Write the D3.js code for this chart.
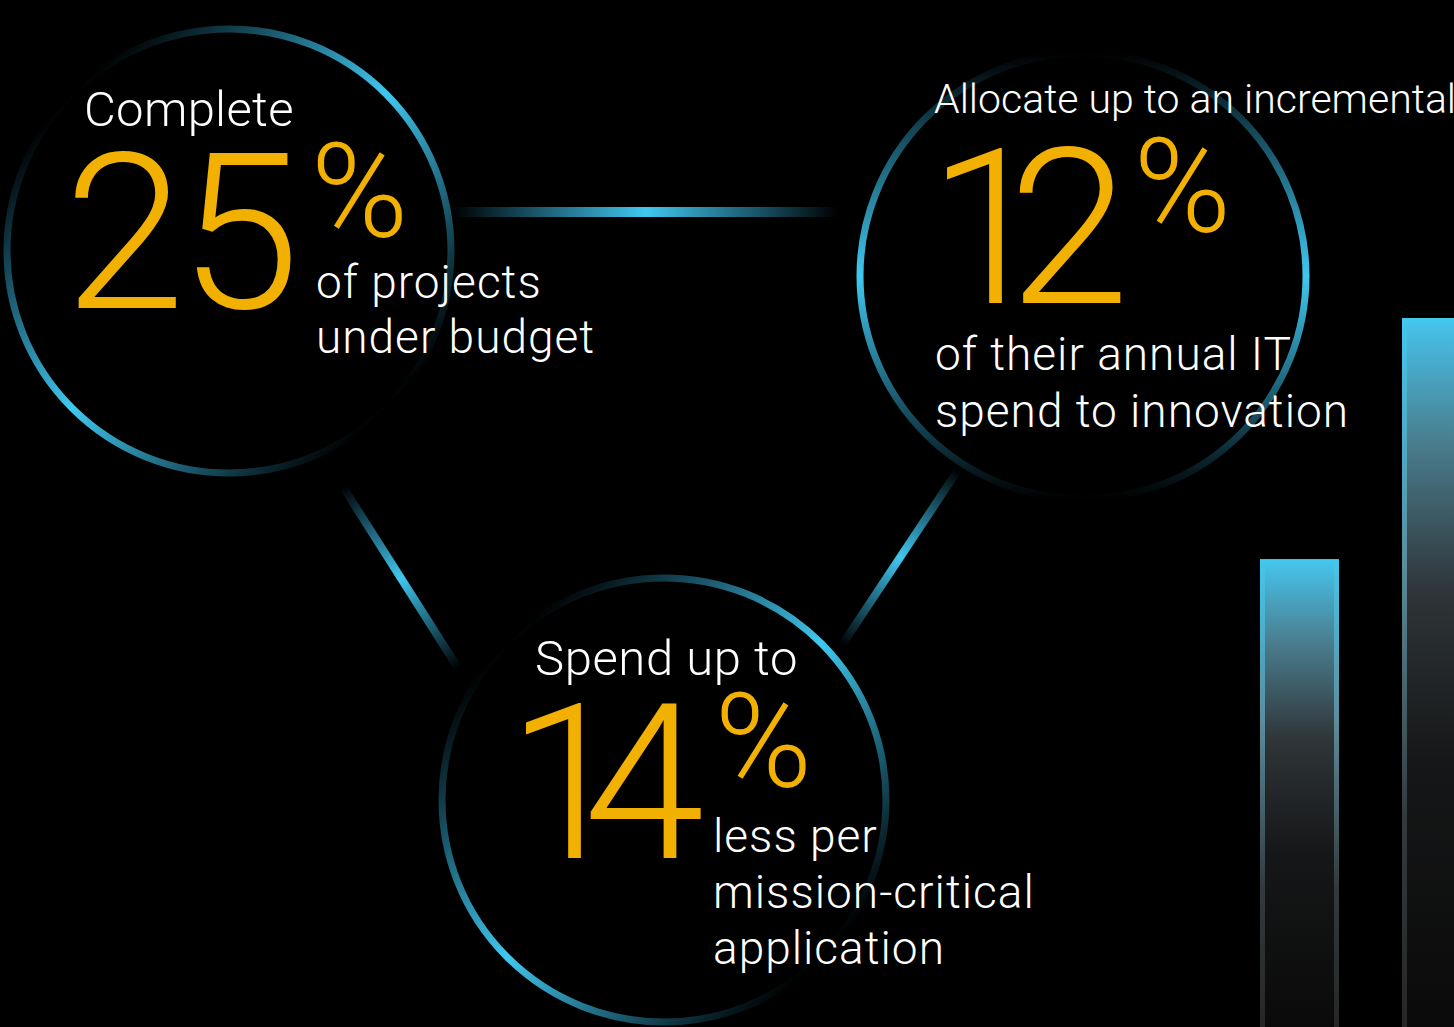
<!DOCTYPE html>
<html>
<head>
<meta charset="utf-8">
<script src="https://cdn.jsdelivr.net/npm/d3@7"></script>
<style>
  html, body { margin: 0; padding: 0; background: #000; overflow: hidden; }
  svg { display: block; }
  text { font-family: Roboto, "Noto Sans", sans-serif; font-weight: 300; }
  .num { font-variant-numeric: proportional-nums; font-feature-settings: "pnum" 1; }
</style>
</head>
<body>
<svg></svg>
<script>
// the three headline figures
var leadIns = ["Complete", "Allocate up to an incremental", "Spend up to"];
var values = [25, 12, 14];
var captions = [
  ["of projects", "under budget"],
  ["of their annual IT", "spend to innovation"],
  ["less per", "mission-critical", "application"]
];
// decorative bars on the right
var barKeys = ["a", "b"];
var barValues = [66, 100];

var width = 1454, height = 1027;
var cyan = "#40c8f0", gold = "#f2b000";

var svg = d3.select("svg")
    .attr("width", width)
    .attr("height", height);

var defs = svg.append("defs");

// layout of each figure block: lead [x, y, size, spacing], num [x, y, spacing, % dx]
var layout = [
  { cx: 229, cy: 251, r: 222, dir: "diag",
    lead: [84, 126, 49, 0.3], num: [64, 308, -6, 17], cap: [316, 298, 55] },
  { cx: 1083, cy: 276, r: 223, dir: "vert",
    lead: [934, 113, 41, 0], num: [935, 303, -22, 26], cap: [935, 370, 57] },
  { cx: 664, cy: 800, r: 222, dir: "diag",
    lead: [535, 675, 49, 0.6], num: [514, 858, -26, 36], cap: [713, 852, 56] }
];

function ringGradient(id, x1, y1, x2, y2) {
  var g = defs.append("linearGradient")
      .attr("id", id)
      .attr("gradientUnits", "userSpaceOnUse")
      .attr("x1", x1).attr("y1", y1).attr("x2", x2).attr("y2", y2);
  [[0, "#000"], [0.18, "#15495a"], [0.5, cyan], [0.82, "#15495a"], [1, "#000"]]
    .forEach(function (s) {
      g.append("stop").attr("offset", s[0]).attr("stop-color", s[1]);
    });
}

// connector lines between the circles
var links = [
  [453, 212, 838, 212, 10],
  [343, 487, 458, 668, 8],
  [958, 470, 842, 645, 8]
];
links.forEach(function (l, i) {
  ringGradient("link" + i, l[0], l[1], l[2], l[3]);
  svg.append("line")
      .attr("x1", l[0]).attr("y1", l[1])
      .attr("x2", l[2]).attr("y2", l[3])
      .attr("stroke", "url(#link" + i + ")")
      .attr("stroke-width", l[4]);
});

// rings
layout.forEach(function (d, i) {
  var a = d.r * 0.7071;
  if (d.dir == "diag") ringGradient("ring" + i, d.cx - a, d.cy - a, d.cx + a, d.cy + a);
  else ringGradient("ring" + i, d.cx, d.cy - d.r, d.cx, d.cy + d.r);
});

svg.selectAll("circle.ring")
    .data(layout)
    .enter()
    .append("circle")
    .attr("class", "ring")
    .attr("cx", function (d) { return d.cx; })
    .attr("cy", function (d) { return d.cy; })
    .attr("r", function (d) { return d.r; })
    .attr("fill", "none")
    .attr("stroke", function (d, i) { return "url(#ring" + i + ")"; })
    .attr("stroke-width", 7);

// text
layout.forEach(function (d, i) {
  svg.append("text")
      .attr("x", d.lead[0]).attr("y", d.lead[1])
      .attr("font-size", d.lead[2])
      .attr("letter-spacing", d.lead[3])
      .attr("fill", "#fff")
      .text(leadIns[i]);

  var num = svg.append("text")
      .attr("class", "num")
      .attr("x", d.num[0]).attr("y", d.num[1])
      .attr("fill", gold);
  num.append("tspan")
      .attr("font-size", 218)
      .attr("letter-spacing", d.num[2])
      .text(values[i]);
  num.append("tspan")
      .attr("font-size", 132)
      .attr("dx", d.num[3])
      .attr("dy", -71)
      .text("%");

  svg.append("text")
      .attr("font-size", 46)
      .attr("letter-spacing", 1)
      .attr("fill", "#fff")
      .selectAll("tspan")
      .data(captions[i])
      .enter()
      .append("tspan")
      .attr("x", d.cap[0])
      .attr("y", function (c, j) { return d.cap[1] + j * d.cap[2]; })
      .text(function (c) { return c; });
});

// bars
var x = d3.scaleBand()
    .domain(barKeys)
    .range([1260, 1481])
    .paddingInner(0.4437)
    .paddingOuter(0);

var y = d3.scaleLinear()
    .domain([0, 100])
    .range([height, 318]);

var edge = defs.append("linearGradient")
    .attr("id", "barEdge").attr("x1", 0).attr("y1", 0).attr("x2", 0).attr("y2", 1);
[[0, "#42c8ee"], [0.35, "#5a8c9c"], [0.7, "#333a3d"], [1, "#262626"]].forEach(function (s) {
  edge.append("stop").attr("offset", s[0]).attr("stop-color", s[1]);
});
var fill = defs.append("linearGradient")
    .attr("id", "barFill").attr("x1", 0).attr("y1", 0).attr("x2", 0).attr("y2", 1);
[[0, "#46c2ea"], [0.17, "#4a7d8e"], [0.38, "#2f3538"], [0.62, "#161718"], [1, "#0a0a0a"]].forEach(function (s) {
  fill.append("stop").attr("offset", s[0]).attr("stop-color", s[1]);
});

var bars = svg.selectAll("g.bar")
    .data(barValues)
    .enter()
    .append("g")
    .attr("class", "bar");

bars.append("rect")
    .attr("x", function (d, i) { return x(barKeys[i]); })
    .attr("y", function (d) { return y(d); })
    .attr("width", x.bandwidth())
    .attr("height", function (d) { return height - y(d); })
    .attr("fill", "url(#barEdge)");

bars.append("rect")
    .attr("x", function (d, i) { return x(barKeys[i]) + 5; })
    .attr("y", function (d) { return y(d) + 5; })
    .attr("width", x.bandwidth() - 10)
    .attr("height", function (d) { return height - y(d) - 5; })
    .attr("fill", "url(#barFill)");
</script>
</body>
</html>
